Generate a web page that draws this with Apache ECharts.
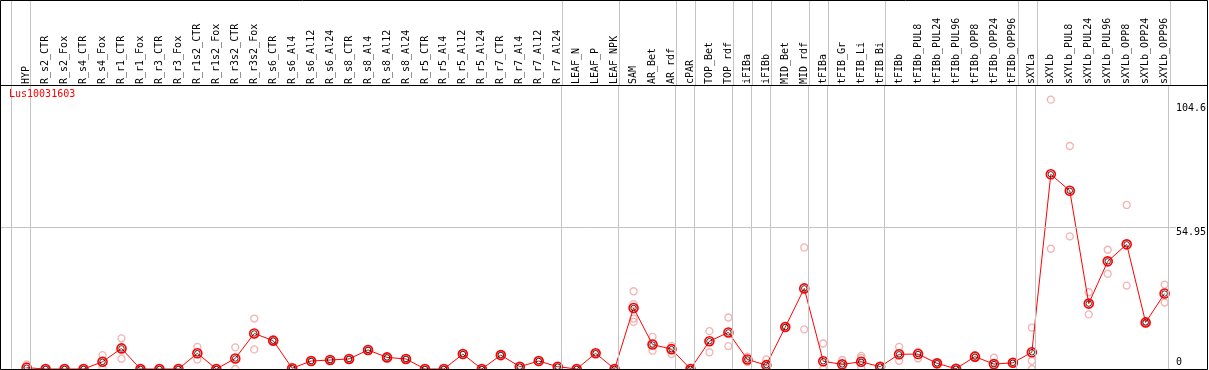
<!DOCTYPE html>
<html><head><meta charset="utf-8">
<script src="https://cdn.jsdelivr.net/npm/echarts@6/dist/echarts.min.js"></script>
<style>html,body{margin:0;padding:0;background:#fff}#c{width:1209px;height:370px}</style>
</head><body><div id="c"></div>
<script>
const geneId = 'Lus10031603';
const categories = ['HYP','R_s2_CTR','R_s2_Fox','R_s4_CTR','R_s4_Fox','R_r1_CTR','R_r1_Fox','R_r3_CTR','R_r3_Fox','R_r1s2_CTR','R_r1s2_Fox','R_r3s2_CTR','R_r3s2_Fox','R_s6_CTR','R_s6_Al4','R_s6_Al12','R_s6_Al24','R_s8_CTR','R_s8_Al4','R_s8_Al12','R_s8_Al24','R_r5_CTR','R_r5_Al4','R_r5_Al12','R_r5_Al24','R_r7_CTR','R_r7_Al4','R_r7_Al12','R_r7_Al24','LEAF_N','LEAF_P','LEAF_NPK','SAM','AR_Bet','AR_rdf','cPAR','TOP_Bet','TOP_rdf','iFIBa','iFIBb','MID_Bet','MID_rdf','tFIBa','tFIB_Gr','tFIB_Li','tFIB_Bi','tFIBb','tFIBb_PUL8','tFIBb_PUL24','tFIBb_PUL96','tFIBb_OPP8','tFIBb_OPP24','tFIBb_OPP96','sXYLa','sXYLb','sXYLb_PUL8','sXYLb_PUL24','sXYLb_PUL96','sXYLb_OPP8','sXYLb_OPP24','sXYLb_OPP96'];
const means = [0.5,0,0,0,2.8,8.0,0,0,0,6.1,0,4.1,13.8,11.0,0.3,3.1,3.5,3.9,7.4,4.5,3.9,0,0,5.8,0,5.4,0.9,3.1,0.9,0,6.1,0,23.7,9.5,7.7,0,10.8,14.2,3.7,1.5,16.3,31.3,3.0,1.8,2.8,0.9,5.7,5.8,2.2,0.1,4.8,1.9,2.4,6.5,75.6,69.2,25.4,41.8,48.4,18.1,29.3];
const repHigh = [1.8,0,0,0,5.4,11.9,0,0,0,8.6,0,8.4,19.6,11.0,0.3,3.1,3.5,3.9,7.4,4.5,3.9,0,0,5.8,0,5.4,0.9,3.1,0.9,0,6.1,0,30.2,12.5,9.0,0,14.7,20.0,4.8,3.7,16.3,47.2,9.9,3.5,5.1,0.9,8.6,6.6,2.2,0.1,5.4,4.4,2.4,16.1,104.6,86.6,29.8,46.3,63.7,18.4,32.8];
const repLow = [1.2,0,0,0,0.3,4.0,0,0,0,3.7,0,0,7.6,11.0,0.3,3.1,3.5,3.9,7.4,4.5,3.9,0,0,5.8,0,5.4,0.9,3.1,0.9,0,6.1,0,18.3,7.1,5.8,0,6.5,8.9,2.7,0,16.3,15.4,0,0.4,0.4,0.9,3.2,4.1,2.2,0.1,4.2,0,2.4,0,46.7,51.5,21.2,37.0,32.4,17.8,25.8];
const extraReps = [[32,25.2],[32,19.6],[44,4.3],[53,3.2]];
const groupEndsAfter = [-1,0,28,31,34,35,37,38,39,41,42,45,52,53,60];
const yTickValues = [0, 54.95, 104.6];
const yTickLabels = ['0', '54.95', '104.6'];
const yMax = 109.9;

const FONT = 'DejaVu Sans Mono';
const xMin = -1.3526, xMax = 60.595;
const sepData = groupEndsAfter.map(i => ({xAxis: i + 0.2}));
const sepStyle = {color:'#c4c4c4', type:'solid', width:1};

const repData = [];
categories.forEach((c, i) => { repData.push([i, repHigh[i]]); repData.push([i, repLow[i]]); });
extraReps.forEach(p => repData.push(p));
const meanData = means.map((v, i) => [i, v]);

const chart = echarts.init(document.getElementById('c'), null, {renderer:'canvas'});
chart.setOption({
  animation: false,
  backgroundColor: '#fff',
  title: {text: geneId, left: 9, top: 89, padding: 0,
    textStyle: {color:'#ff0000', fontFamily: FONT, fontSize: 10, fontWeight: 'normal'}},
  grid: [
    {left: 1, right: 31, top: 86, bottom: 1},
    {left: 1, right: 31, top: 0, height: 86}
  ],
  xAxis: [
    {type:'value', gridIndex:0, min:xMin, max:xMax, position:'top',
      axisLine:{show:false}, axisTick:{show:false}, splitLine:{show:false},
      axisLabel:{customValues: categories.map((_, i) => i),
        formatter: v => categories[Math.round(v)] || '',
        rotate: 90, margin: 2, fontFamily: FONT, fontSize: 10, color:'#000'}},
    {type:'value', gridIndex:1, min:xMin, max:xMax, show:false}
  ],
  yAxis: [
    {type:'value', gridIndex:0, min:0, max:yMax, position:'right',
      axisLine:{show:false}, axisTick:{show:false}, splitLine:{show:false},
      axisLabel:{customValues: yTickValues, margin: 0, align:'left', fontFamily: FONT, fontSize: 10, color:'#000',
        formatter: v => {
          let k = 0; yTickValues.forEach((t, j) => { if (Math.abs(t - v) < Math.abs(yTickValues[k] - v)) k = j; });
          return '{t' + k + '|' + yTickLabels[k] + '}';
        },
        rich: {
          t0: {fontFamily: FONT, fontSize: 10, color:'#000', padding:[0,0,14,0]},
          t1: {fontFamily: FONT, fontSize: 10, color:'#000', padding:[9,0,0,0]},
          t2: {fontFamily: FONT, fontSize: 10, color:'#000', padding:[18,0,0,0]}
        }}},
    {type:'value', gridIndex:1, min:0, max:1, show:false}
  ],
  series: [
    {type:'scatter', xAxisIndex:1, yAxisIndex:1, data:[], silent:true,
      markLine:{silent:true, symbol:['none','none'], label:{show:false}, lineStyle:sepStyle, data: sepData}},
    {type:'scatter', xAxisIndex:0, yAxisIndex:0, data: repData, silent:true, z:2,
      symbol:'circle', symbolSize:7,
      itemStyle:{color:'rgba(0,0,0,0)', borderColor:'#f0a0a0', borderWidth:1.3},
      markLine:{silent:true, symbol:['none','none'], label:{show:false}, lineStyle:sepStyle,
        data: sepData.concat([{yAxis: yTickValues[1]}])}},
    {type:'line', xAxisIndex:0, yAxisIndex:0, data: meanData, silent:true, z:3,
      showAllSymbol:true, symbol:'circle', symbolSize:9,
      lineStyle:{color:'#ff0000', width:1},
      itemStyle:{color:'rgba(0,0,0,0)', borderColor:'#ff0000', borderWidth:1.6}},
    {type:'scatter', xAxisIndex:0, yAxisIndex:0, data: meanData, silent:true, z:4,
      symbol:'circle', symbolSize:5.5,
      itemStyle:{color:'rgba(0,0,0,0)', borderColor:'#000', borderWidth:1}}
  ],
  graphic: [
    {type:'rect', silent:true, z:100, shape:{x:0.5, y:0.5, width:1207, height:369},
      style:{fill:'none', stroke:'#000', lineWidth:1}},
    {type:'line', silent:true, z:100, shape:{x1:0.5, y1:85.5, x2:1207.5, y2:85.5},
      style:{stroke:'#000', lineWidth:1}}
  ]
});
</script></body></html>
